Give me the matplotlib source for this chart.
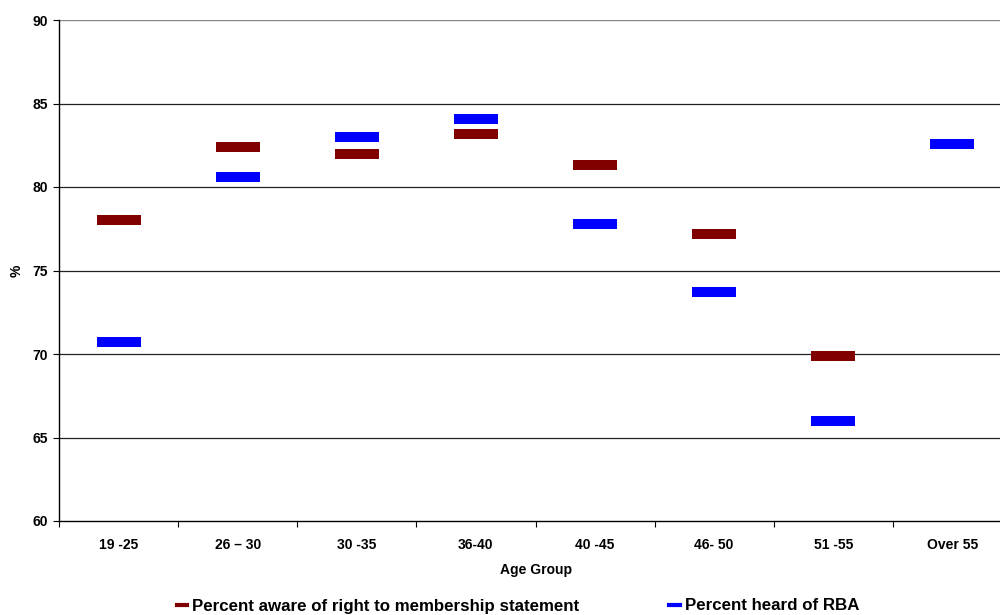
import matplotlib
matplotlib.use("Agg")
import matplotlib.pyplot as plt
from matplotlib.lines import Line2D
from matplotlib.path import Path
import numpy as np

plt.rcParams['font.family'] = ['Liberation Sans', 'DejaVu Sans']
plt.rcParams['font.weight'] = 'bold'

age_groups = ["19 -25", "26 \u2013 30", "30 -35", "36-40", "40 -45", "46- 50", "51 -55", "Over 55"]
aware_membership = [78.0, 82.4, 82.0, 83.2, 81.3, 77.2, 69.9, 82.6]
heard_rba = [70.7, 80.6, 83.0, 84.1, 77.8, 73.7, 66.0, 82.6]
y_ticks = [60, 65, 70, 75, 80, 85, 90]

red = "#800000"
blue = "#0000FF"

# wide flat bar marker
bar_marker = Path([(-2.35, -0.5), (2.35, -0.5), (2.35, 0.5), (-2.35, 0.5), (-2.35, -0.5)],
                  [Path.MOVETO, Path.LINETO, Path.LINETO, Path.LINETO, Path.CLOSEPOLY])

fig = plt.figure(figsize=(10, 6.15), dpi=100)
ax = fig.add_axes([0.059, 1 - 521 / 615, 1.012 - 0.059, (521 - 20) / 615])

x = np.arange(len(age_groups))
ax.plot(x, aware_membership, linestyle='none', marker=bar_marker, markersize=31.7,
        color=red, markeredgewidth=0, zorder=3)
ax.plot(x, heard_rba, linestyle='none', marker=bar_marker, markersize=31.7,
        color=blue, markeredgewidth=0, zorder=4)

ax.set_xlim(-0.5, len(age_groups) - 0.5)
ax.set_ylim(60, 90)
ax.set_yticks(y_ticks)
ax.set_yticklabels([str(v) for v in y_ticks], fontsize=10, fontweight='bold')

for v in y_ticks[1:-1]:
    ax.axhline(v, color='#222222', lw=0.9, zorder=1)
ax.axhline(90, color='#888888', lw=1.0, zorder=1)

ax.set_xticks(x)
ax.set_xticklabels(age_groups, fontsize=10, fontweight='bold')
ax.set_xticks(np.arange(len(age_groups) + 1) - 0.5, minor=True)
ax.tick_params(axis='x', which='major', length=0, pad=12)
ax.tick_params(axis='x', which='minor', length=4, width=0.8, direction='out')
ax.tick_params(axis='y', length=4, width=0.8, direction='out', pad=4)

for side in ['top', 'right']:
    ax.spines[side].set_visible(False)
ax.spines['left'].set_linewidth(1.0)
ax.spines['bottom'].set_linewidth(1.0)

ax.set_xlabel("Age Group", fontsize=10, fontweight='bold', labelpad=8)
ax.set_ylabel("%", fontsize=10, fontweight='bold', labelpad=6)

handles = [Line2D([0], [0], color=red, lw=3),
           Line2D([0], [0], color=blue, lw=3)]
labels = ["Percent aware of right to membership statement", "Percent heard of RBA"]
fig.legend(handles, labels, loc='center', bbox_to_anchor=(0.518, 1 - 606 / 615), ncol=2,
           frameon=False, prop={'size': 12.15, 'weight': 'bold'}, handlelength=0.6,
           handletextpad=0.3, columnspacing=5.35, borderaxespad=0, borderpad=0)

fig.savefig("out.png", dpi=100)
